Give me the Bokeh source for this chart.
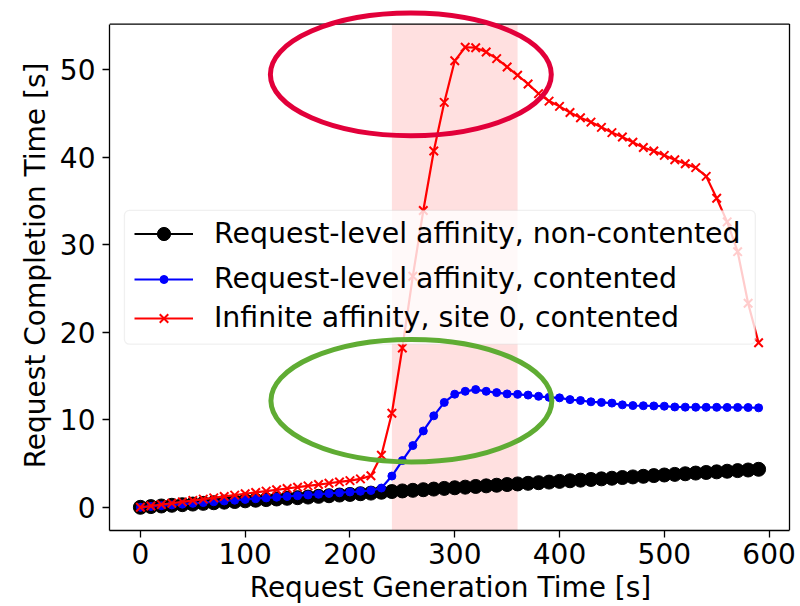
from bokeh.plotting import figure
from bokeh.models import Range1d, FixedTicker, Legend, LegendItem, BoxAnnotation
from bokeh.embed import file_html
from bokeh.resources import INLINE

# ---------------- data ----------------
gen_time = [0, 10, 20, 30, 40, 50, 60, 70, 80, 90,
            100, 110, 120, 130, 140, 150, 160, 170, 180, 190,
            200, 210, 220, 230, 240, 250, 260, 270, 280, 290,
            300, 310, 320, 330, 340, 350, 360, 370, 380, 390,
            400, 410, 420, 430, 440, 450, 460, 470, 480, 490,
            500, 510, 520, 530, 540, 550, 560, 570, 580, 590]

req_noncont = [0.00, 0.08, 0.15, 0.23, 0.30, 0.37, 0.45, 0.52, 0.59, 0.66,
               0.74, 0.81, 0.88, 0.95, 1.03, 1.10, 1.17, 1.25, 1.32, 1.40,
               1.47, 1.55, 1.62, 1.72, 1.80, 1.87, 1.94, 2.01, 2.08, 2.16,
               2.23, 2.30, 2.38, 2.45, 2.52, 2.60, 2.67, 2.74, 2.81, 2.88,
               2.96, 3.03, 3.10, 3.18, 3.25, 3.32, 3.40, 3.47, 3.54, 3.62,
               3.69, 3.76, 3.83, 3.91, 3.98, 4.05, 4.12, 4.19, 4.26, 4.34]

req_cont = [0.00, 0.09, 0.18, 0.27, 0.36, 0.45, 0.54, 0.63, 0.72, 0.81,
            0.90, 0.98, 1.07, 1.15, 1.24, 1.32, 1.41, 1.49, 1.58, 1.66,
            1.75, 1.83, 1.92, 2.20, 3.57, 5.34, 7.05, 8.72, 10.45, 11.98,
            12.92, 13.25, 13.45, 13.25, 13.10, 12.95, 12.90, 12.82, 12.68, 12.56,
            12.50, 12.30, 12.20, 12.05, 11.98, 11.90, 11.70, 11.62, 11.60, 11.58,
            11.55, 11.46, 11.44, 11.43, 11.42, 11.42, 11.41, 11.41, 11.40, 11.36]

inf_cont = [0.00, 0.15, 0.31, 0.46, 0.62, 0.77, 0.93, 1.08, 1.24, 1.39,
            1.55, 1.70, 1.85, 2.00, 2.15, 2.30, 2.45, 2.60, 2.75, 2.90,
            3.05, 3.25, 3.60, 5.95, 10.75, 18.20, 26.40, 33.90, 40.70, 46.25,
            51.00, 52.55, 52.50, 52.00, 51.25, 50.30, 49.35, 48.35, 47.25, 46.40,
            45.80, 45.10, 44.50, 44.00, 43.40, 42.80, 42.30, 41.70, 41.10, 40.70,
            40.20, 39.70, 39.25, 38.80, 37.80, 35.30, 32.60, 29.20, 23.30, 18.80]

labels = ["Request-level affinity, non-contented",
          "Request-level affinity, contented",
          "Infinite affinity, site 0, contented"]

x_ticks = [0, 100, 200, 300, 400, 500, 600]
y_ticks = [0, 10, 20, 30, 40, 50]

# highlighted interval
span_start, span_end = 240, 360

# axis limits (matplotlib-like 5% margins)
x_lo, x_hi = -29.5, 619.5
y_lo, y_hi = -2.65, 55.2

FONT = "DejaVu Sans"

p = figure(width=800, height=606,
           x_range=Range1d(x_lo, 621.4), y_range=Range1d(y_lo, 57.89),
           output_backend="svg", toolbar_location=None,
           min_border_left=109, min_border_right=9,
           min_border_top=0, min_border_bottom=74)
p.outline_line_color = None
p.xgrid.visible = False
p.ygrid.visible = False
p.background_fill_color = "white"
p.border_fill_color = "white"

for ax, ticks, lab, bnds in ((p.xaxis, x_ticks, "Request Generation Time [s]", (x_lo, x_hi)),
                             (p.yaxis, y_ticks, "Request Completion Time [s]", (y_lo, y_hi))):
    ax.ticker = FixedTicker(ticks=ticks)
    ax.bounds = bnds
    ax.axis_label = lab
    ax.axis_line_color = "black"
    ax.axis_line_width = 1.3
    ax.major_tick_line_color = "black"
    ax.major_tick_line_width = 1.3
    ax.major_tick_out = 7
    ax.major_tick_in = 0
    ax.minor_tick_out = 0
    ax.minor_tick_in = 0
    ax.major_label_text_font = FONT
    ax.major_label_text_font_size = "28px"
    ax.major_label_text_color = "black"
    ax.axis_label_text_font = FONT
    ax.axis_label_text_font_size = "28px"
    ax.axis_label_text_font_style = "normal"
    ax.axis_label_text_color = "black"

p.xaxis.major_label_standoff = 5
p.xaxis.axis_label_standoff = 4
p.yaxis.major_label_standoff = 7
p.yaxis.axis_label_standoff = 5

# top and right frame borders
p.segment(x0=[x_lo], y0=[y_hi], x1=[x_hi], y1=[y_hi], line_color="black", line_width=1.3)
p.segment(x0=[x_hi], y0=[y_lo], x1=[x_hi], y1=[y_hi], line_color="black", line_width=1.3)

# shaded interval
p.add_layout(BoxAnnotation(left=span_start, right=span_end, top=y_hi,
                           fill_color="red", fill_alpha=0.12, line_color=None,
                           level="underlay"))

# series
l1 = p.line(gen_time, req_noncont, line_color="black", line_width=2.2)
s1 = p.scatter(gen_time, req_noncont, marker="circle", size=14,
               fill_color="black", line_color="black")
l2 = p.line(gen_time, req_cont, line_color="blue", line_width=2.2)
s2 = p.scatter(gen_time, req_cont, marker="circle", size=8,
               fill_color="blue", line_color="blue")
l3 = p.line(gen_time, inf_cont, line_color="red", line_width=2.2)
s3 = p.scatter(gen_time, inf_cont, marker="x", size=12,
               line_color="red", line_width=2)

# legend background box
p.add_layout(BoxAnnotation(left=-15.27, right=586.9, top=33.91, bottom=18.63,
                           fill_color="white", fill_alpha=0.8,
                           line_color="#cccccc", line_width=1.3, border_radius=5))

def make_legend(label, rends, gh, loc):
    lg = Legend(items=[LegendItem(label=label, renderers=rends)],
                location=loc, padding=0, spacing=0, margin=0,
                glyph_width=59, glyph_height=gh, label_height=gh,
                label_standoff=21,
                label_text_font=FONT, label_text_font_size="28.4px",
                label_text_color="black",
                background_fill_alpha=0, border_line_alpha=0)
    p.add_layout(lg)
    return lg

make_legend(labels[0], [l1, s1], 33, (25, 280))
make_legend(labels[1], [l2, s2], 20, (25, 235))
make_legend(labels[2], [l3, s3], 30, (25, 196))

# annotation ellipses
p.ellipse(x=[258.1], y=[49.45], width=268.1, height=14.0,
          fill_alpha=0, line_color="#e2003a", line_width=5, level="overlay")
p.ellipse(x=[258.6], y=[12.18], width=268.1, height=14.0,
          fill_alpha=0, line_color="#5fac33", line_width=5, level="overlay")

open("out.html", "w").write(file_html(p, INLINE))
